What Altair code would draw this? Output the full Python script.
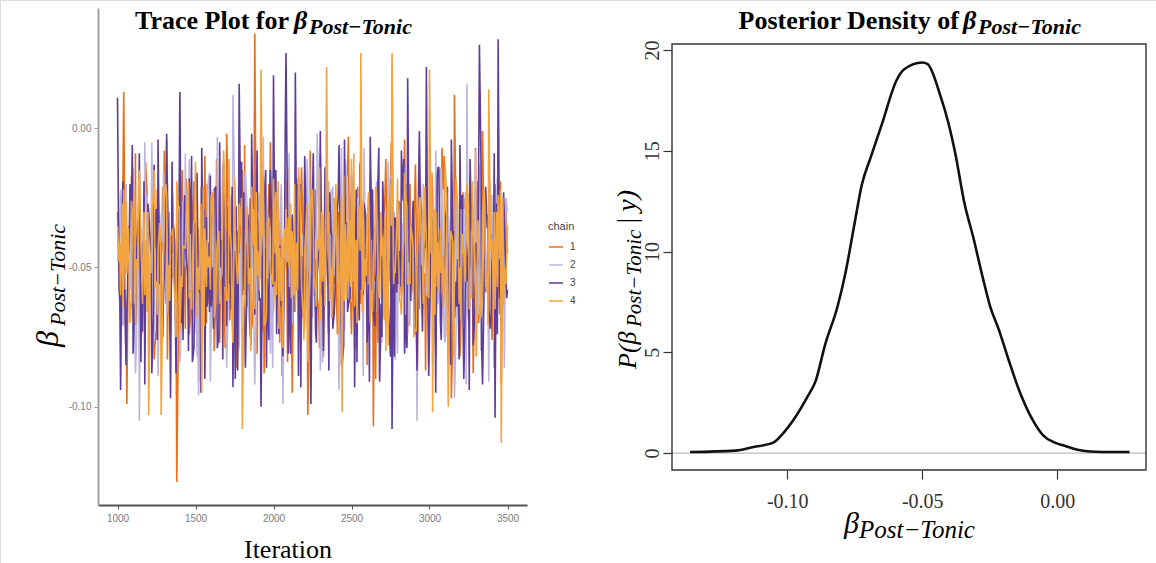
import altair as alt
import pandas as pd

# ---------------- data (trace values in thousandths) ----------------
# "a" lists: iterations 1000, 1020, ..., 3500
# "b" lists: iterations 1010, 1030, ..., 3490
# "c" lists: iterations 1015, 1035, ..., 3495
ITER_START = 1000
ITER_STEP = 20

chain1_a_milli = [
    -30, -62, 13, -99, -45, -20, -71, -38, -55, -12,
    -66, -41, -78, -25, -50, -8, -83, -47, -35, -127,
    -40, -58, -18, -74, -44, -29, -91, -52, -10, -63,
    -37, -80, -22, -55, -48, -2, -69, -33, -86, -45,
    -15, -60, -39, -72, 34, -50, -27, -88, -43, -5,
    -65, -31, -77, -46, -19, -58, -95, -36, -53, -14,
    -70, -103, -28, -49, -61, -9, -82, -40, -24, -67,
    -52, -90, -33, -45, -3, -74, -57, -21, -63, -38,
    -85, -16, -107, -47, -30, -68, -11, -55, -42, -79,
    -26, -60, -4, -71, -49, -35, -93, -18, -57, -44,
    -66, -23, -81, -39, -7, -62, -51, -97, 12, -46,
    -73, -29, -54, -17, -88, -41, -64, -1, -59, -36,
    -76, -20, -50, -92, -32, -45,
]
chain1_b_milli = [
    -52, -28, -61, -40, -17, -57, -33, -69, -44, -24,
    -59, -36, -72, -48, -21, -63, -30, -54, -42, -75,
    -26, -50, -38, -66, -19, -56, -45, -31, -70, -47,
    -23, -60, -34, -52, -79, -29, -46, -64, -37, -14,
    -58, -41, -25, -67, -49, -32, -73, -43, -20, -55,
    -39, -62, -27, -51, -84, -35, -46, -18, -60, -43,
    -30, -71, -53, -22, -65, -38, -48, -26, -57, -40,
    -74, -33, -50, -16, -62, -45, -29, -68, -41, -55,
    -24, -59, -36, -77, -47, -31, -53, -20, -64, -42,
    -27, -56, -39, -70, -49, -13, -61, -34, -52, -44,
    -28, -66, -37, -58, -22, -50, -43, -73, -31, -60,
    -46, -25, -69, -38, -54, -19, -63, -41, -48, -32,
    -57, -35, -67, -42, -26,
]
chain1_c_milli = [
    -44, -18, -66, -35, -57, -9, -49, -74, -28, -61,
    -39, -83, -22, -53, -45, -4, -68, -31, -59, -40,
    -15, -72, -47, -26, -63, -36, -88, -50, -20, -56,
    -42, -11, -77, -33, -60, -46, -24, -70, -38, -52,
    -6, -64, -41, -29, -81, -48, -19, -58, -35, -67,
    -25, -50, -89, -43, -14, -62, -37, -55, -27, -73,
    -46, -8, -60, -34, -79, -49, -21, -66, -40, -56,
    -30, -85, -45, -17, -63, -36, -52, -12, -71, -43,
    -58, -26, -90, -39, -61, -23, -48, -5, -69, -34,
    -54, -44, -78, -20, -59, -37, -65, -29, -87, -47,
    -16, -62, -41, -53, -10, -75, -32, -57, -44, -82,
    -23, -66, -38, -50, -7, -70, -45, -28, -60, -35,
    -86, -49, -19, -64, -40,
]
chain2_a_milli = [
    -48, -22, -70, -35, -58, -14, -80, -105, -41, -27,
    -63, -5, -52, -89, -31, -45, -17, -74, -56, -38,
    -84, -26, -49, -11, -67, -42, -96, -33, -59, -20,
    -72, -46, -3, -61, -37, -86, -24, 12, -53, -78,
    -40, -15, -65, -50, -92, -30, -6, -57, -44, -81,
    -23, -62, -36, -99, -48, -9, -70, -28, -54, -43,
    -16, -76, -39, -60, -2, -87, -47, -32, -68, -21,
    -55, -94, -34, -11, -64, -45, -79, -25, -51, -7,
    -71, -40, -58, -19, -90, -37, -62, -48, 25, -83,
    -29, -56, -14, -74, -42, -66, -105, -35, -20, -60,
    -46, -85, -8, -53, -31, -77, -41, -18, -97, -57,
    -27, -69, 16, -50, -38, -82, -13, -61, -44, -91,
    -24, -65, -36, -54, -86, -30,
]
chain2_b_milli = [
    -40, -66, -29, -53, -18, -71, -44, -35, -60, -24,
    -49, -77, -32, -56, -41, -13, -64, -38, -50, -27,
    -69, -45, -21, -58, -36, -82, -47, -30, -62, -16,
    -54, -39, -73, -26, -48, -61, -34, -19, -67, -43,
    -52, -28, -75, -37, -59, -23, -46, -65, -31, -55,
    -42, -70, -20, -57, -35, -81, -44, -25, -63, -38,
    -50, -14, -68, -47, -29, -60, -40, -74, -22, -53,
    -33, -66, -45, -18, -58, -37, -79, -28, -51, -43,
    -62, -24, -55, -39, -72, -30, -48, -17, -64, -41,
    -57, -34, -76, -26, -52, -45, -21, -67, -38, -59,
    -31, -70, -44, -15, -61, -36, -53, -27, -74, -42,
    -49, -23, -65, -33, -56, -40, -80, -29, -51, -19,
    -63, -37, -58, -45, -25,
]
chain2_c_milli = [
    -36, -71, -20, -58, -43, -88, -27, -63, -5, -50,
    -40, -76, -31, -55, -16, -67, -46, -24, -83, -38,
    -60, -9, -52, -34, -74, -45, -21, -65, -39, -91,
    -28, -57, -48, -13, -69, -35, -61, -25, -80, -44,
    -18, -59, -37, -72, -30, -54, -3, -66, -42, -86,
    -26, -62, -47, -15, -70, -33, -56, -22, -78, -49,
    -11, -64, -39, -53, -29, -84, -45, -19, -68, -36,
    -58, -7, -73, -41, -25, -61, -50, -17, -89, -32,
    -55, -43, -66, -23, -77, -38, -12, -60, -46, -81,
    -30, -52, -20, -71, -40, -57, -4, -65, -35, -85,
    -27, -49, -63, -14, -75, -44, -33, -59, -21, -69,
    -42, -92, -31, -54, -8, -67, -47, -24, -62, -38,
    -79, -18, -56, -45, -28,
]
chain3_a_milli = [
    11, -94, -38, -66, -20, -81, -47, -9, -73, -55,
    -30, -88, -43, -4, -69, -52, -25, -97, -36, -61,
    13, -76, -45, -18, -84, -33, -58, -7, -90, -41,
    -64, -22, -79, -50, -12, -71, -39, -93, -28, 16,
    -60, -86, -35, -2, -67, -48, -100, -26, -54, -15,
    19, -74, -42, -82, 27, -57, -31, 20, -89, -46,
    -10, -68, -99, -37, -53, -1, -80, -44, -23, -72,
    -49, -6, -85, -34, -63, -17, -93, -40, -58, -27,
    -77, -3, -66, -51, -91, -19, -45, -70, -108, -32,
    -56, -8, -81, 18, -62, -38, -87, -24, -50, 22,
    -73, -43, -95, -14, -60, -35, -84, -4, -68, -47,
    -29, -90, -55, -11, -78, -41, 30, -92, -21, -65,
    -48, -104, 32, -70, -33, -58,
]
chain3_b_milli = [
    -58, -31, -72, -45, -26, -63, -37, -84, -19, -52,
    -41, -67, -29, -56, -75, -34, -48, -12, -61, -43,
    -70, -24, -53, -38, -79, -16, -59, -46, -32, -66,
    -50, -21, -74, -40, -57, -28, -65, -44, -87, -35,
    -23, -54, -69, -41, -30, -62, -47, -15, -76, -39,
    -55, -27, -64, -49, -33, -81, -43, -58, -20, -68,
    -36, -52, -25, -73, -45, -60, -14, -57, -38, -66,
    -29, -50, -78, -34, -61, -42, -22, -69, -47, -31,
    -56, -40, -71, -18, -63, -37, -53, -82, -30, -59,
    -44, -26, -67, -48, -35, -74, -21, -58, -41, -64,
    -33, -51, -17, -70, -46, -28, -62, -39, -55, -83,
    -24, -60, -43, -37, -68, -49, -11, -57, -36, -72,
    -45, -27, -61, -40, -53,
]
chain3_c_milli = [
    -62, -19, -85, -41, -6, -70, -33, -55, -92, -27,
    -48, -13, -76, -39, -60, -2, -67, -45, -88, -24,
    -53, -36, -80, -10, -58, -43, -95, -29, -64, -17,
    -72, -46, -5, -83, -37, -56, -21, -90, -50, -12,
    -69, -31, -78, -44, -8, -61, -40, -86, -25, -57,
    -15, -74, -47, -3, -81, -35, -66, -20, -93, -51,
    -28, -63, -9, -77, -42, -55, -16, -87, -38, -59,
    -24, -71, -4, -66, -49, -30, -84, -13, -60, -45,
    -91, -22, -54, -7, -75, -40, -62, -18, -82, -34,
    -57, -11, -79, -47, -26, -68, -1, -73, -43, -89,
    -32, -58, -14, -76, -50, -21, -85, -37, -64, -6,
    -70, -41, -94, -27, -55, -16, -80, -46, -31, -67,
    -9, -74, -52, -23, -61,
]
chain4_a_milli = [
    -35, -60, -22, -52, -70, -28, -47, -15, -63, -40,
    -103, -31, -57, -44, -103, -25, -66, -38, -54, -19,
    -73, -42, -30, -61, -48, -12, -58, -95, -36, -50,
    -24, -68, -41, -55, -8, -62, -33, -77, -46, -27,
    -108, -39, -56, -21, -65, -44, 21, -71, -34, -52,
    -18, -60, -43, -79, -29, -50, -37, -66, -14, -57,
    -45, -84, -26, -53, -40, -69, -31, 22, -62, -48,
    -20, -74, -102, -36, -55, -11, -64, -42, 27, -58,
    -33, -70, -47, -23, -61, -39, -80, -28, 27, -52,
    -44, -67, -16, -56, -35, -75, -49, -25, -63, -41,
    21, -102, -30, -59, -46, -13, -100, -38, -54, -27,
    -68, -43, -20, -60, -36, -82, -48, -31, -57, 14,
    -40, -65, -24, -113, -50, -35,
]
chain4_b_milli = [
    -48, -27, -58, -36, -62, -22, -51, -41, -30, -66,
    -45, -24, -55, -34, -60, -20, -49, -38, -64, -29,
    -53, -43, -25, -59, -33, -68, -40, -21, -57, -46,
    -31, -63, -37, -52, -26, -61, -44, -18, -56, -35,
    -65, -28, -50, -42, -23, -58, -39, -70, -32, -54,
    -45, -19, -62, -36, -48, -27, -60, -41, -24, -67,
    -34, -53, -22, -59, -43, -30, -64, -38, -50, -25,
    -57, -46, -17, -61, -33, -55, -40, -28, -66, -47,
    -23, -58, -37, -52, -30, -69, -42, -20, -56, -35,
    -62, -44, -26, -54, -39, -72, -31, -49, -21, -60,
    -45, -29, -57, -36, -64, -24, -51, -41, -18, -63,
    -38, -55, -27, -61, -46, -33, -68, -22, -52, -40,
    -59, -30, -47, -25, -56,
]
chain4_c_milli = [
    -41, -64, -26, -55, -33, -70, -21, -48, -60, -30,
    -52, -15, -67, -38, -45, -24, -62, -36, -75, -28,
    -57, -43, -19, -65, -34, -50, -27, -71, -40, -58,
    -22, -46, -63, -31, -54, -11, -69, -37, -49, -25,
    -60, -42, -80, -29, -53, -35, -17, -66, -44, -56,
    -23, -72, -39, -47, -32, -61, -20, -58, -45, -76,
    -27, -51, -36, -64, -14, -55, -42, -30, -68, -38,
    -49, -24, -62, -33, -57, -9, -70, -44, -26, -53,
    -39, -66, -21, -59, -46, -31, -78, -35, -51, -18,
    -63, -40, -28, -56, -43, -73, -25, -48, -34, -61,
    -16, -67, -41, -52, -29, -58, -37, -82, -23, -50,
    -45, -32, -65, -19, -54, -39, -60, -27, -71, -44,
    -30, -57, -22, -63, -47,
]
chain_names = ["1", "2", "3", "4"]
chain_colors = ["#E8701C", "#BDB5DC", "#5E3C99", "#F2A440"]

density_x = [-0.136, -0.1193, -0.1125, -0.105, -0.1016, -0.0976, -0.0928, -0.0894,
             -0.086, -0.0813, -0.0785, -0.0751, -0.0724, -0.069, -0.065, -0.0595,
             -0.0568, -0.050, -0.048, -0.0432, -0.0405, -0.0378, -0.0344, -0.031,
             -0.0276, -0.0249, -0.0215, -0.0181, -0.014, -0.0092, -0.0052, -0.0011,
             0.003, 0.0071, 0.0111, 0.0166, 0.0268]
density_y = [0.05, 0.12, 0.3, 0.53, 0.97, 1.67, 2.73, 3.61,
             5.37, 7.31, 8.9, 11.37, 13.3, 14.71, 16.3, 18.5,
             19.03, 19.38, 19.3, 17.7, 16.48, 14.9, 12.42, 10.66,
             8.72, 7.31, 6.08, 4.67, 3.08, 1.67, 0.88, 0.53,
             0.35, 0.18, 0.09, 0.05, 0.05]

trace_ticks = [1000, 1500, 2000, 2500, 3000, 3500]
trace_yticks = [-0.10, -0.05, 0.00]
dens_xticks = [-0.10, -0.05, 0.00]
dens_yticks = [0, 5, 10, 15, 20]

# ---------------- tables ----------------
rows = []
chain_lists = [
    (chain1_a_milli, chain1_b_milli, chain1_c_milli),
    (chain2_a_milli, chain2_b_milli, chain2_c_milli),
    (chain3_a_milli, chain3_b_milli, chain3_c_milli),
    (chain4_a_milli, chain4_b_milli, chain4_c_milli),
]
for name, (a_vals, b_vals, c_vals) in zip(chain_names, chain_lists):
    pts = []
    for offset, vals in ((0, a_vals), (10, b_vals), (15, c_vals)):
        for i, v in enumerate(vals):
            pts.append((ITER_START + offset + ITER_STEP * i, v))
    pts.sort()
    for it, v in pts:
        rows.append({"iteration": it, "value": v / 1000.0, "chain": name})
trace_df = pd.DataFrame(rows)
dens_df = pd.DataFrame({"x": density_x, "d": density_y})

W, H = 1156, 563
SIGNED = "datum.value < 0 ? '-' + format(abs(datum.value), '.2f') : format(datum.value, '.2f')"

# ---------------- left panel: trace ----------------
trace = alt.Chart(trace_df).mark_line(strokeWidth=1.6, strokeJoin="bevel").encode(
    x=alt.X("iteration:Q",
            scale=alt.Scale(domain=[875, 3625], range=[98, 527], nice=False, zero=False),
            axis=alt.Axis(orient="bottom", offset=505 - H, values=trace_ticks, format="d",
                          title=None, grid=False, domainColor="#555555", domainWidth=1.8,
                          tickColor="#555555", tickSize=4, labelFont="Liberation Sans",
                          labelFontSize=10, labelColor="#7a7a84", labelPadding=4,
                          labelFlush=False, labelOverlap=False)),
    y=alt.Y("value:Q",
            scale=alt.Scale(domain=[-0.1353, 0.0432], range=[505, 8], nice=False, zero=False),
            axis=alt.Axis(orient="left", offset=-98, values=trace_yticks, labelExpr=SIGNED,
                          title=None, grid=False, domainColor="#9a9a9a", domainWidth=1.8,
                          tickColor="#9a9a9a", tickSize=4, labelFont="Liberation Sans",
                          labelFontSize=10, labelColor="#7a7a84", labelPadding=3,
                          labelFlush=False, labelOverlap=False)),
    color=alt.Color("chain:N",
                    scale=alt.Scale(domain=chain_names, range=chain_colors),
                    legend=alt.Legend(orient="none", legendX=548, legendY=221, title="chain",
                                      titleFont="Liberation Sans", titleFontSize=11,
                                      titleFontWeight="normal", titleColor="#444444",
                                      titlePadding=7, labelFont="Liberation Sans",
                                      labelFontSize=10, labelColor="#444444", labelOffset=6,
                                      symbolType="stroke", symbolSize=200,
                                      symbolStrokeWidth=1.5, rowPadding=5, padding=0)),
    order=alt.Order("iteration:Q"),
)

# ---------------- right panel: density ----------------
dens_xscale = alt.Scale(domain=[-0.1427, 0.0329], range=[672, 1146], nice=False, zero=False)
dens_yscale = alt.Scale(domain=[-0.84, 20.3], range=[470, 44], nice=False, zero=False)

zero_line = alt.Chart(pd.DataFrame({"y": [0]})).mark_rule(color="#bdbdbd", strokeWidth=1.2).encode(
    y=alt.Y("y:Q", scale=dens_yscale, axis=None),
    x=alt.value(672), x2=alt.value(1146),
)

dens = alt.Chart(dens_df).mark_line(color="#111111", strokeWidth=2.6, interpolate="monotone").encode(
    x=alt.X("x:Q", scale=dens_xscale,
            axis=alt.Axis(orient="bottom", offset=470 - H, values=dens_xticks, labelExpr=SIGNED,
                          title=None, grid=False, domain=False, tickColor="#333333",
                          tickWidth=1.2, tickSize=9, labelFont="Liberation Serif",
                          labelFontSize=20, labelColor="#333333", labelPadding=12,
                          labelFlush=False, labelOverlap=False)),
    y=alt.Y("d:Q", scale=dens_yscale,
            axis=alt.Axis(orient="left", offset=-672, values=dens_yticks, format="d",
                          title=None, grid=False, domain=False, tickColor="#333333",
                          tickWidth=1.2, tickSize=9, labelFont="Liberation Serif",
                          labelFontSize=20, labelColor="#333333", labelAngle=270,
                          labelAlign="center", labelBaseline="bottom", labelPadding=1,
                          labelFlush=False, labelOverlap=False)),
)

frame = alt.Chart(pd.DataFrame({"k": [0]})).mark_rect(fillOpacity=0, stroke="#333333", strokeWidth=1.4).encode(
    x=alt.value(672), x2=alt.value(1146), y=alt.value(44), y2=alt.value(470),
)


# ---------------- text pieces (titles with subscripts) ----------------
def txt(text, x, y, size, weight="normal", style="normal", align="left", angle=0):
    kw = dict(text=text, fontSize=size, font="Liberation Serif", fontWeight=weight,
              fontStyle=style, align=align, baseline="alphabetic", color="#000000")
    if angle:
        kw["angle"] = angle
    return alt.Chart(pd.DataFrame({"k": [0]})).mark_text(**kw).encode(x=alt.value(x), y=alt.value(y))


texts = [
    # left title
    txt("Trace Plot for", 289, 29, 26, weight="bold", align="right"),
    txt("β", 294, 29, 26, weight="bold", style="italic"),
    txt("Post−Tonic", 309, 34, 22, weight="bold", style="italic"),
    # left axis titles
    txt("Iteration", 288, 558, 26, align="center"),
    txt("β", 58, 347, 32, style="italic", angle=270),
    txt("Post−Tonic", 65, 326, 22, style="italic", angle=270),
    # right title
    txt("Posterior Density of", 959, 29, 26, weight="bold", align="right"),
    txt("β", 963, 29, 26, weight="bold", style="italic"),
    txt("Post−Tonic", 978, 34, 22, weight="bold", style="italic"),
    # right axis titles
    txt("β", 844, 533, 30, style="italic"),
    txt("Post−Tonic", 859, 538, 25, style="italic"),
    txt("P(β", 636, 369, 26, style="italic", angle=270),
    txt("Post−Tonic", 641, 327, 21, style="italic", angle=270),
    txt("|\u2009y)", 636, 225, 28, style="italic", angle=270),
]

chart = alt.layer(trace, zero_line, dens, frame, *texts).resolve_scale(
    x="independent", y="independent", color="independent"
).properties(
    width=W, height=H, padding=0, autosize=alt.AutoSizeParams(type="none"),
).configure_view(strokeWidth=0).configure(background="#ffffff")

chart.save("out.html", embed_options={"renderer": "svg", "actions": False})
